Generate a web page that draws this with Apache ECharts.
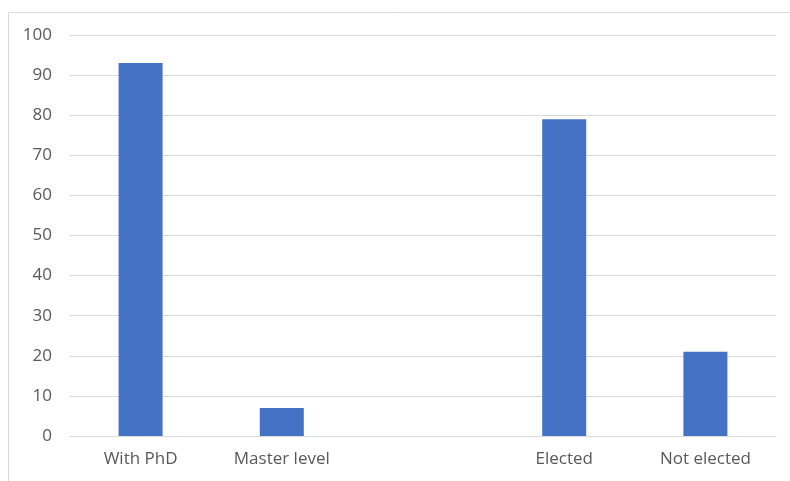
<!DOCTYPE html>
<html>
<head>
<meta charset="utf-8">
<script src="https://cdn.jsdelivr.net/npm/echarts@6/dist/echarts.min.js"></script>
<style>
  html, body { margin: 0; padding: 0; background: #fff; }
  #chart { width: 790px; height: 481px; }
</style>
</head>
<body>
<div id="chart"></div>
<script>
// categories (the blank one is the gap between the two groups)
let categories = ['With PhD', 'Master level', '', 'Elected', 'Not elected'];
let values = [93, 7, null, 79, 21];
let yTicks = {min: 0, max: 100, interval: 10};

let textColor = '#595959';
let fontFamily = '"Open Sans", "Liberation Sans", sans-serif';

let chart = echarts.init(document.getElementById('chart'));
let option = {
  animation: false,
  grid: {left: 70, right: 14, top: 35, bottom: 45},
  graphic: [{
    type: 'rect',
    shape: {x: 8.5, y: 12.5, width: 800, height: 500},
    style: {fill: 'none', stroke: '#d9d9d9', lineWidth: 1},
    silent: true
  }],
  xAxis: {
    type: 'category',
    data: categories,
    axisLine: {lineStyle: {color: '#d9d9d9'}},
    axisTick: {show: false},
    axisLabel: {color: textColor, fontSize: 17, fontFamily: fontFamily, margin: 15}
  },
  yAxis: {
    type: 'value',
    min: yTicks.min,
    max: yTicks.max,
    interval: yTicks.interval,
    axisLine: {show: false},
    axisTick: {show: false},
    splitLine: {lineStyle: {color: '#d9d9d9'}},
    axisLabel: {color: textColor, fontSize: 17, fontFamily: fontFamily, margin: 18}
  },
  series: [{
    type: 'bar',
    data: values,
    barWidth: 44,
    itemStyle: {color: '#4472c4'}
  }]
};
chart.setOption(option);
</script>
</body>
</html>
